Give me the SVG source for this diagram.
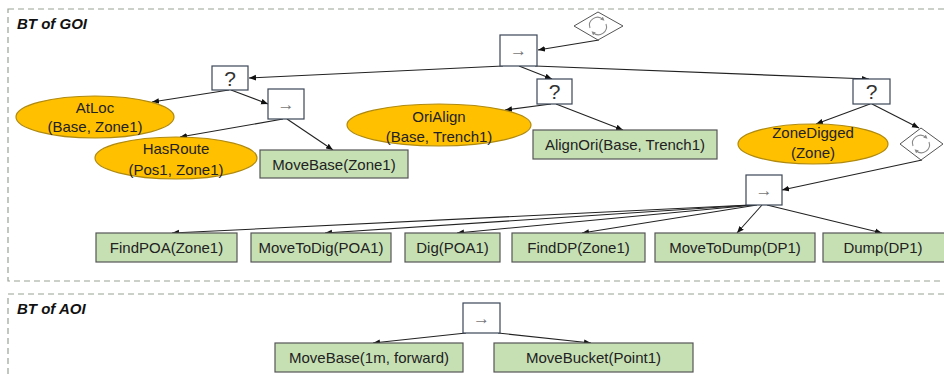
<svg xmlns="http://www.w3.org/2000/svg" width="944" height="377" viewBox="0 0 944 377">
  <defs>
    <marker id="arr" viewBox="0 0 10 10" refX="10" refY="5" markerWidth="7" markerHeight="7" orient="auto" markerUnits="userSpaceOnUse">
      <path d="M0,1 L10,5 L0,9 z" fill="#111"/>
    </marker>
    <marker id="arrSmall" viewBox="0 0 10 10" refX="5" refY="5" markerWidth="4" markerHeight="4" orient="auto" markerUnits="userSpaceOnUse">
      <path d="M0,0 L10,5 L0,10 z" fill="#8a8a8a"/>
    </marker>
    <!-- repeat icon: two curved arrows in a circle -->
    <g id="loop">
      <path d="M-8,2 A8,8 0 0 1 5,-6.5" fill="none" stroke="#8a8a8a" stroke-width="1.1" marker-end="url(#arrSmall)"/>
      <path d="M8,-2 A8,8 0 0 1 -5,6.5" fill="none" stroke="#8a8a8a" stroke-width="1.1" marker-end="url(#arrSmall)"/>
    </g>
  </defs>
  <style>
    .frame { fill: none; stroke: #98a394; stroke-width: 1.2; stroke-dasharray: 6 4; }
    .title { font-family: "Liberation Sans", Arial, sans-serif; font-size: 15px; font-weight: bold; font-style: italic; fill: #111; }
    .ctl { fill: #fff; stroke: #3b4758; stroke-width: 1.2; }
    .dec { fill: #fff; stroke: #555; stroke-width: 1; }
    .cond { fill: #ffc000; stroke: #b08a10; stroke-width: 1.2; }
    .act { fill: #c6e0b4; stroke: #555; stroke-width: 1.2; }
    .lbl { font-family: "Liberation Sans", Arial, sans-serif; font-size: 15px; fill: #222; text-anchor: middle; }
    .q { font-family: "Liberation Sans", Arial, sans-serif; font-size: 21px; fill: #333; text-anchor: middle; }
    .seq { font-family: "Liberation Sans", Arial, sans-serif; font-size: 17px; fill: #777; text-anchor: middle; }
    .edge { fill: none; stroke: #222; stroke-width: 1.1; marker-end: url(#arr); }
  </style>

  <rect width="944" height="377" fill="#fff"/>

  <!-- panel frames -->
  <rect class="frame" x="8" y="9" width="950" height="272"/>
  <text class="title" x="17" y="29">BT of GOI</text>
  <rect class="frame" x="8" y="294" width="950" height="100"/>
  <text class="title" x="17" y="314">BT of AOI</text>

  <!-- connectors -->
  <g id="connectors">
    <line class="edge" x1="599" y1="40" x2="538" y2="50"/>
    <line class="edge" x1="503" y1="66" x2="249" y2="78"/>
    <line class="edge" x1="519" y1="66" x2="552" y2="79"/>
    <line class="edge" x1="535" y1="66" x2="869" y2="79"/>
    <line class="edge" x1="229" y1="90" x2="152" y2="102"/>
    <line class="edge" x1="231" y1="90" x2="268" y2="104"/>
    <line class="edge" x1="283" y1="119" x2="180" y2="137"/>
    <line class="edge" x1="287" y1="119" x2="333" y2="150"/>
    <line class="edge" x1="551" y1="104" x2="505" y2="110"/>
    <line class="edge" x1="556" y1="104" x2="623" y2="130"/>
    <line class="edge" x1="870" y1="104" x2="816" y2="124"/>
    <line class="edge" x1="872" y1="104" x2="919" y2="128"/>
    <line class="edge" x1="922" y1="160" x2="782" y2="190"/>
    <line class="edge" x1="750" y1="205" x2="172" y2="233"/>
    <line class="edge" x1="752" y1="205" x2="325" y2="233"/>
    <line class="edge" x1="754" y1="205" x2="457" y2="233"/>
    <line class="edge" x1="757" y1="205" x2="582" y2="233"/>
    <line class="edge" x1="762" y1="205" x2="737" y2="233"/>
    <line class="edge" x1="767" y1="205" x2="882" y2="233"/>
    <line class="edge" x1="466" y1="333" x2="373" y2="343"/>
    <line class="edge" x1="498" y1="333" x2="591" y2="343"/>
  </g>

  <!-- GOI tree -->
  <g id="repeat-root">
    <polygon class="dec" points="574,26 598,12 623,26 598,40"/>
    <use href="#loop" x="598" y="26"/>
  </g>
  <g id="seq-root">
    <rect class="ctl" x="500" y="35" width="37" height="31"/>
    <text class="seq" x="518.5" y="56">→</text>
  </g>
  <g id="fb-left">
    <rect class="ctl" x="212" y="66" width="36" height="24"/>
    <text class="q" x="230" y="86">?</text>
  </g>
  <g id="seq-left">
    <rect class="ctl" x="268" y="89" width="36" height="30"/>
    <text class="seq" x="286" y="110">→</text>
  </g>
  <g id="atloc">
    <ellipse class="cond" cx="95" cy="117" rx="79" ry="21"/>
    <text class="lbl" x="95" y="113">AtLoc</text>
    <text class="lbl" x="95" y="132">(Base, Zone1)</text>
  </g>
  <g id="hasroute">
    <ellipse class="cond" cx="176" cy="158" rx="81" ry="21"/>
    <text class="lbl" x="176" y="154">HasRoute</text>
    <text class="lbl" x="176" y="175">(Pos1, Zone1)</text>
  </g>
  <g id="movebase-zone">
    <rect class="act" x="260" y="150" width="148" height="28"/>
    <text class="lbl" x="334" y="170">MoveBase(Zone1)</text>
  </g>
  <g id="fb-mid">
    <rect class="ctl" x="537" y="79" width="35" height="25"/>
    <text class="q" x="554.5" y="99">?</text>
  </g>
  <g id="orialign">
    <ellipse class="cond" cx="439" cy="125" rx="92" ry="21"/>
    <text class="lbl" x="439" y="122">OriAlign</text>
    <text class="lbl" x="439" y="142">(Base, Trench1)</text>
  </g>
  <g id="alignori">
    <rect class="act" x="533" y="130" width="184" height="29"/>
    <text class="lbl" x="625" y="150">AlignOri(Base, Trench1)</text>
  </g>
  <g id="fb-right">
    <rect class="ctl" x="853" y="79" width="37" height="25"/>
    <text class="q" x="871.5" y="99">?</text>
  </g>
  <g id="zonedigged">
    <ellipse class="cond" cx="813" cy="144" rx="75" ry="20"/>
    <text class="lbl" x="813" y="138">ZoneDigged</text>
    <text class="lbl" x="813" y="158">(Zone)</text>
  </g>
  <g id="repeat-dig">
    <polygon class="dec" points="900,144 921,128 943,144 921,160"/>
    <use href="#loop" x="921" y="144"/>
  </g>
  <g id="seq-dig">
    <rect class="ctl" x="746" y="175" width="36" height="30"/>
    <text class="seq" x="764" y="196">→</text>
  </g>
  <g id="findpoa">
    <rect class="act" x="96" y="233" width="141" height="29"/>
    <text class="lbl" x="166.5" y="253">FindPOA(Zone1)</text>
  </g>
  <g id="movetodig">
    <rect class="act" x="251" y="233" width="140" height="29"/>
    <text class="lbl" x="321" y="253">MoveToDig(POA1)</text>
  </g>
  <g id="dig">
    <rect class="act" x="405" y="233" width="95" height="29"/>
    <text class="lbl" x="452.5" y="253">Dig(POA1)</text>
  </g>
  <g id="finddp">
    <rect class="act" x="512" y="233" width="133" height="29"/>
    <text class="lbl" x="578.5" y="253">FindDP(Zone1)</text>
  </g>
  <g id="movetodump">
    <rect class="act" x="655" y="233" width="160" height="29"/>
    <text class="lbl" x="735" y="253">MoveToDump(DP1)</text>
  </g>
  <g id="dump">
    <rect class="act" x="823" y="233" width="130" height="29"/>
    <text class="lbl" x="883" y="253">Dump(DP1)</text>
  </g>

  <!-- AOI tree -->
  <g id="seq-aoi">
    <rect class="ctl" x="463" y="303" width="37" height="30"/>
    <text class="seq" x="481.5" y="324">→</text>
  </g>
  <g id="movebase-fwd">
    <rect class="act" x="275" y="343" width="188" height="29"/>
    <text class="lbl" x="369" y="363">MoveBase(1m, forward)</text>
  </g>
  <g id="movebucket">
    <rect class="act" x="494" y="343" width="199" height="29"/>
    <text class="lbl" x="593.5" y="363">MoveBucket(Point1)</text>
  </g>
</svg>
